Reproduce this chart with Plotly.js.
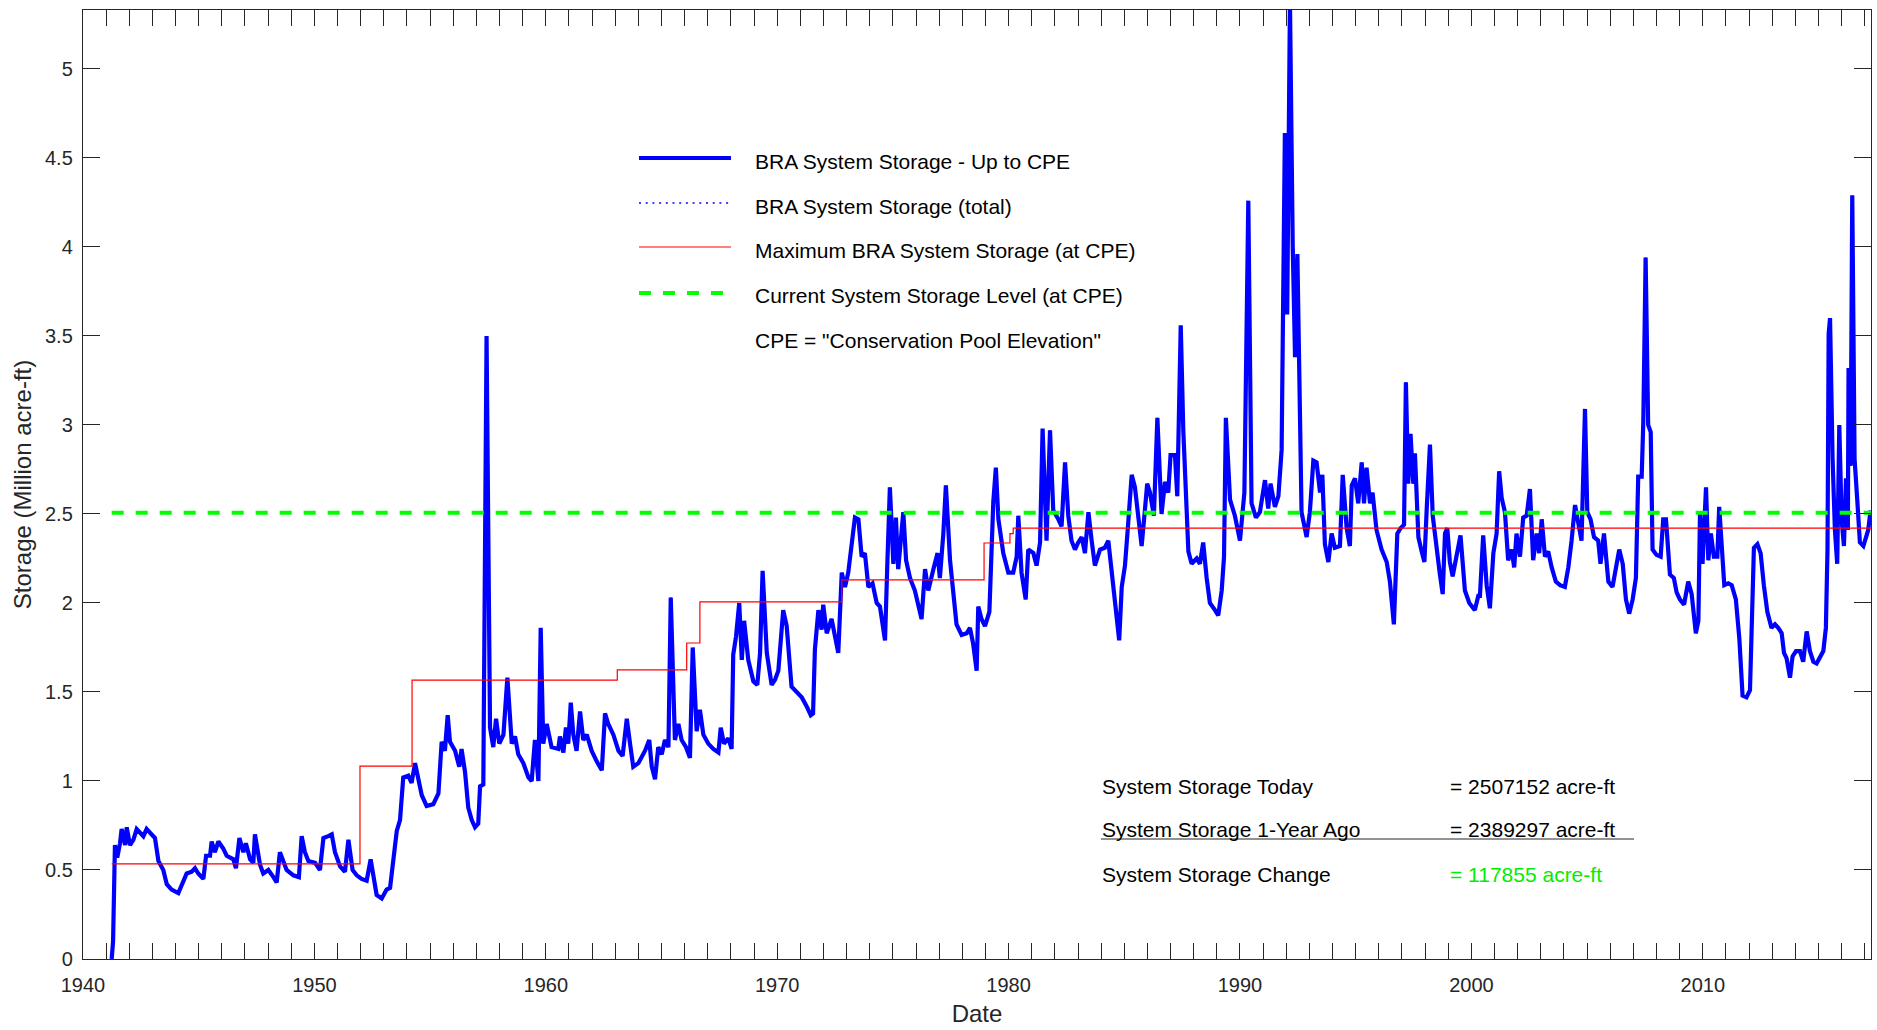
<!DOCTYPE html>
<html>
<head>
<meta charset="utf-8">
<script src="https://cdn.plot.ly/plotly-3.0.1.min.js"></script>
<style>
html,body{margin:0;padding:0;background:#fff;}
#chart{width:1877px;height:1030px;}
</style>
</head>
<body>
<div id="chart"></div>
<script>
// ---- Data ----
var years = [
1941.24,1941.30,1941.38,1941.48,1941.60,1941.67,1941.82,1941.89,1942.03,1942.18,1942.32,1942.46,1942.61,1942.75,1942.97,
1943.11,1943.26,1943.47,1943.62,1943.83,1944.12,1944.26,1944.48,1944.70,1944.84,1944.98,1945.20,1945.32,1945.49,1945.56,
1945.70,1945.85,1946.06,1946.21,1946.50,1946.61,1946.76,1946.93,1947.04,1947.22,1947.36,1947.43,1947.65,1947.79,1948.01,
1948.23,1948.37,1948.51,1948.66,1948.80,1949.09,1949.33,1949.45,1949.59,1949.74,1950.03,1950.24,1950.39,1950.60,1950.75,
1950.89,1951.11,1951.32,1951.47,1951.65,1951.83,1952.04,1952.26,1952.43,1952.58,1952.69,1952.91,1953.12,1953.27,1953.41,
1953.56,1953.70,1953.84,1954.06,1954.20,1954.35,1954.49,1954.64,1954.85,1955.14,1955.36,1955.50,1955.64,1955.76,1955.86,
1956.08,1956.26,1956.36,1956.51,1956.65,1956.80,1956.94,1957.08,1957.16,1957.30,1957.44,
1957.59,1957.73,1957.85,1957.99,1958.17,1958.34,1958.53,1958.67,1958.81,1959.03,1959.25,1959.39,1959.53,1959.68,1959.78,
1959.89,1960.04,1960.25,1960.54,1960.61,1960.76,1960.87,1960.97,1961.08,1961.19,1961.33,1961.48,1961.62,1961.77,1961.98,
1962.20,1962.42,1962.56,1962.70,1962.92,1963.14,1963.32,1963.50,1963.64,1963.78,1964.00,1964.29,1964.47,1964.58,1964.72,
1964.86,1965.01,1965.15,1965.30,1965.40,1965.58,1965.73,1965.87,1966.06,1966.23,1966.35,1966.52,1966.66,1966.81,1967.02,
1967.24,1967.46,1967.56,1967.70,1967.89,1968.03,1968.10,1968.22,1968.36,1968.47,1968.57,1968.75,1968.97,1969.14,1969.26,
1969.37,1969.55,1969.76,1969.91,1970.05,
1970.26,1970.41,1970.62,1970.84,1971.06,1971.27,1971.45,1971.55,1971.63,1971.78,1971.92,1971.99,1972.14,1972.35,1972.50,
1972.64,1972.79,1972.93,1973.07,1973.22,1973.36,1973.51,1973.65,1973.79,1973.94,1974.12,1974.30,1974.44,1974.66,1974.76,
1974.87,1975.02,1975.13,1975.23,1975.45,1975.57,1975.74,1975.95,1976.24,1976.39,1976.53,1976.75,1976.93,1977.03,1977.18,
1977.29,1977.47,1977.75,1977.97,1978.19,1978.33,1978.47,1978.62,1978.69,1978.83,1978.98,1979.17,1979.34,1979.45,1979.56,
1979.77,1979.99,1980.20,1980.35,1980.42,1980.56,1980.74,1980.85,1981.07,1981.21,1981.36,1981.47,1981.64,1981.79,1981.93,
1982.15,1982.29,1982.44,1982.58,1982.72,1982.87,1983.01,1983.16,1983.30,1983.45,1983.59,1983.73,1983.95,1984.16,1984.31,
1984.45,1984.60,1984.78,1984.89,1985.03,1985.17,1985.32,1985.46,1985.61,1985.75,1985.89,1985.99,
1986.11,1986.28,1986.43,1986.61,1986.76,1986.90,1987.00,1987.19,1987.29,1987.44,1987.55,1987.69,1987.77,1987.91,1988.13,
1988.27,1988.41,1988.56,1988.70,1988.92,1989.06,1989.21,1989.31,1989.39,1989.57,1989.78,1990.00,1990.19,1990.36,1990.50,
1990.69,1990.86,1991.08,1991.22,1991.32,1991.51,1991.66,1991.80,1991.94,1992.04,1992.16,1992.28,1992.38,1992.48,1992.66,
1992.88,1993.02,1993.17,1993.31,1993.46,1993.56,1993.67,1993.82,1993.96,1994.10,1994.32,1994.44,1994.61,1994.75,1994.83,
1994.97,1995.11,1995.26,1995.36,1995.47,1995.62,1995.73,1995.90,1996.12,1996.34,1996.48,1996.65,1996.80,1996.94,1997.09,
1997.17,1997.27,1997.37,1997.49,1997.56,1997.71,1997.85,1997.97,1998.07,1998.21,1998.33,1998.47,1998.64,1998.76,1998.86,
1998.96,1999.07,1999.19,1999.36,1999.53,1999.72,1999.91,2000.15,2000.30,
2000.37,2000.51,2000.66,2000.80,2000.95,2001.09,2001.20,2001.31,2001.45,2001.59,2001.74,2001.85,2001.95,2002.10,2002.24,
2002.39,2002.53,2002.67,2002.82,2002.93,2003.04,2003.18,2003.32,2003.47,2003.65,2003.83,2004.04,2004.19,2004.33,2004.48,
2004.62,2004.76,2004.91,2005.01,2005.15,2005.30,2005.48,2005.58,2005.73,2005.92,2006.10,2006.25,2006.39,2006.54,2006.68,
2006.82,2006.97,2007.11,2007.21,2007.36,2007.43,2007.53,2007.64,2007.75,2007.83,2008.00,2008.18,2008.29,2008.41,2008.58,
2008.75,2008.87,2009.01,2009.19,2009.37,2009.52,2009.70,2009.81,2009.88,2009.99,2010.14,2010.24,2010.35,2010.48,2010.63,
2010.71,2010.81,2010.93,2011.10,2011.25,2011.43,2011.58,2011.72,2011.89,2012.04,2012.11,2012.21,2012.36,2012.50,2012.64,
2012.79,2012.97,2013.12,2013.26,2013.41,2013.51,2013.62,2013.77,2013.88,2014.03,2014.20,2014.34,2014.49,2014.63,2014.78,
2014.92,2015.06,2015.21,2015.32,2015.39,2015.44,2015.50,2015.61,2015.71,2015.81,2015.90,2016.00,2016.10,2016.19,2016.27,
2016.30,2016.39,2016.46,2016.56,2016.68,2016.79,2016.94,2017.05,2017.15,2017.25
];
var storage = [
0.00,0.10,0.64,0.57,0.65,0.73,0.64,0.74,0.64,0.67,0.73,0.71,0.69,0.73,0.70,
0.68,0.55,0.50,0.42,0.39,0.37,0.41,0.48,0.49,0.51,0.48,0.45,0.58,0.58,0.66,
0.60,0.66,0.62,0.58,0.56,0.51,0.68,0.60,0.65,0.56,0.54,0.70,0.53,0.48,0.50,
0.46,0.43,0.60,0.55,0.50,0.47,0.46,0.69,0.60,0.55,0.54,0.50,0.68,0.69,0.70,
0.60,0.52,0.49,0.67,0.50,0.47,0.45,0.44,0.56,0.46,0.36,0.34,0.39,0.40,0.55,
0.72,0.78,1.02,1.03,0.99,1.10,1.00,0.92,0.86,0.87,0.93,1.22,1.17,1.37,1.22,
1.17,1.08,1.18,1.05,0.85,0.78,0.74,0.76,0.97,0.98,3.50,
1.30,1.19,1.35,1.21,1.26,1.58,1.21,1.25,1.15,1.10,1.02,1.00,1.23,1.00,1.86,
1.21,1.32,1.19,1.18,1.25,1.16,1.30,1.21,1.44,1.26,1.17,1.39,1.23,1.26,1.17,
1.11,1.06,1.38,1.32,1.26,1.17,1.14,1.35,1.21,1.08,1.10,1.17,1.23,1.08,1.01,
1.19,1.15,1.23,1.19,2.03,1.23,1.32,1.23,1.19,1.13,1.75,1.28,1.40,1.26,1.21,
1.18,1.16,1.30,1.21,1.24,1.18,1.71,1.81,2.00,1.68,1.90,1.68,1.56,1.54,1.72,
2.18,1.72,1.54,1.57,1.62,
1.96,1.87,1.53,1.50,1.47,1.42,1.37,1.38,1.74,1.96,1.85,1.99,1.83,1.91,1.81,
1.72,2.17,2.09,2.17,2.32,2.48,2.47,2.26,2.28,2.09,2.11,2.00,1.98,1.79,2.22,
2.65,2.22,2.48,2.19,2.51,2.24,2.14,2.07,1.91,2.19,2.07,2.19,2.28,2.14,2.39,
2.66,2.24,1.88,1.82,1.83,1.86,1.77,1.62,1.98,1.91,1.87,1.95,2.57,2.76,2.47,
2.28,2.17,2.17,2.26,2.49,2.17,2.02,2.30,2.28,2.21,2.34,2.98,2.35,2.97,2.52,
2.47,2.43,2.79,2.49,2.35,2.30,2.34,2.37,2.28,2.51,2.35,2.21,2.30,2.31,2.35,
2.17,1.98,1.79,2.09,2.21,2.45,2.72,2.65,2.47,2.32,2.52,2.67,
2.62,2.49,3.04,2.50,2.68,2.62,2.83,2.83,2.60,3.56,2.97,2.49,2.29,2.22,2.25,
2.22,2.34,2.14,2.00,1.96,1.93,2.07,2.26,3.04,2.58,2.49,2.35,2.62,4.26,2.56,
2.48,2.51,2.69,2.53,2.67,2.54,2.60,2.86,4.64,3.62,5.38,4.00,3.38,3.96,2.51,
2.37,2.51,2.80,2.79,2.62,2.72,2.33,2.23,2.39,2.31,2.32,2.72,2.42,2.32,2.66,
2.70,2.56,2.79,2.56,2.76,2.56,2.62,2.41,2.30,2.23,2.12,1.88,2.39,2.42,2.44,
3.24,2.67,2.95,2.67,2.84,2.37,2.29,2.23,2.53,2.89,2.49,2.32,2.16,2.05,2.39,
2.42,2.23,2.15,2.27,2.38,2.07,2.00,1.96,2.04,
2.04,2.38,2.10,1.97,2.28,2.39,2.74,2.59,2.51,2.24,2.30,2.20,2.39,2.26,2.48,
2.49,2.64,2.24,2.39,2.28,2.47,2.26,2.29,2.20,2.12,2.10,2.09,2.20,2.35,2.55,
2.45,2.35,3.09,2.51,2.47,2.37,2.35,2.22,2.39,2.12,2.09,2.20,2.30,2.22,2.02,
1.94,2.02,2.14,2.71,2.71,3.02,3.94,3.00,2.96,2.30,2.27,2.26,2.47,2.47,2.16,
2.14,2.06,2.02,1.99,2.12,2.05,1.83,1.90,2.51,2.22,2.65,2.24,2.39,2.26,2.26,
2.54,2.30,2.10,2.11,2.10,2.02,1.80,1.48,1.47,1.51,1.90,2.31,2.33,2.28,2.10,
1.95,1.86,1.88,1.86,1.83,1.72,1.69,1.58,1.70,1.73,1.73,1.67,1.84,1.73,1.67,
1.66,1.69,1.73,1.86,2.30,3.51,3.60,2.81,2.41,2.22,3.00,2.47,2.32,2.70,2.41,
3.32,2.77,4.29,2.81,2.57,2.34,2.32,2.37,2.41,2.52
];

// Maximum storage at CPE (step levels)
var maxYears   = [1941.24, 1951.97, 1954.22, 1963.09, 1966.09, 1966.66, 1972.79, 1978.94, 1980.06, 1980.20, 2017.27];
var maxStorage = [0.534,   1.084,   1.567,   1.624,   1.775,   2.006,   2.130,   2.337,   2.390,   2.420,   2.420];

// Current system storage level
var currentYears = [1941.24, 2017.27];
var currentLevel = 2.507152;

var legendLabels = [
  'BRA System Storage - Up to CPE',
  'BRA System Storage (total)',
  'Maximum BRA System Storage (at CPE)',
  'Current System Storage Level (at CPE)',
  'CPE = "Conservation Pool Elevation"'
];
var statLabels = ['System Storage Today', 'System Storage 1-Year Ago', 'System Storage Change'];
var statValues = [2507152, 2389297, 117855];

var xTickVals = [1940, 1950, 1960, 1970, 1980, 1990, 2000, 2010];

// ---- Figure ----
var FONT = 'Liberation Sans, Arial, Helvetica, sans-serif';
var AX = '#262626';
var TICKFS = 20;
var TXTFS = 21;
var TITLEFS = 24;

var traces = [
  {x: years, y: storage, mode: 'lines', name: legendLabels[1],
   line: {color: '#0000ff', width: 1.5, dash: '2px,4.7px'}, showlegend: false, hoverinfo: 'skip'},
  {x: years, y: storage, mode: 'lines', name: legendLabels[0],
   line: {color: '#0000ff', width: 4.2, shape: 'linear'}, showlegend: false},
  {x: maxYears, y: maxStorage, mode: 'lines', name: legendLabels[2],
   line: {color: '#ff0000', width: 1.2, shape: 'hv'}, showlegend: false},
  {x: currentYears, y: currentYears.map(function(){return currentLevel;}), mode: 'lines', name: legendLabels[3],
   line: {color: '#00ff00', width: 4, dash: 'dash'}, showlegend: false}
];

// plot area in pixels (for placing the hand-drawn legend)
var L = 83, T = 10, R = 6, B = 71, W = 1877, H = 1030;
var pw = W - L - R, ph = H - T - B;
function px(x) { return (x - L) / pw; }
function py(y) { return (H - B - y) / ph; }

var lineY = [158, 203, 247, 293];
var textY = [161, 206, 250, 295, 340];
var legendStyles = [
  {color: '#0000ff', width: 4.2, dash: 'solid'},
  {color: '#0000ff', width: 1.5, dash: '2px,4.7px'},
  {color: '#ff0000', width: 1.2, dash: 'solid'},
  {color: '#00ff00', width: 4, dash: '12px,12px'}
];

var shapes = [];
var annotations = [];
for (var i = 0; i < 4; i++) {
  shapes.push({type: 'line', xref: 'paper', yref: 'paper',
    x0: px(639), x1: px(731), y0: py(lineY[i]), y1: py(lineY[i]),
    line: legendStyles[i]});
}
for (var j = 0; j < legendLabels.length; j++) {
  annotations.push({xref: 'paper', yref: 'paper', x: px(753), y: py(textY[j]),
    xanchor: 'left', yanchor: 'middle', showarrow: false, text: legendLabels[j],
    font: {family: FONT, size: TXTFS, color: '#000'}});
}
var statY = [786, 829, 874];
for (var k = 0; k < 3; k++) {
  var col = (k === 2) ? '#00ee00' : '#000';
  annotations.push({xref: 'paper', yref: 'paper', x: px(1100), y: py(statY[k]),
    xanchor: 'left', yanchor: 'middle', showarrow: false, text: statLabels[k],
    font: {family: FONT, size: TXTFS, color: '#000'}});
  annotations.push({xref: 'paper', yref: 'paper', x: px(1448), y: py(statY[k]),
    xanchor: 'left', yanchor: 'middle', showarrow: false, text: '= ' + statValues[k] + ' acre-ft',
    font: {family: FONT, size: TXTFS, color: col}});
}
shapes.push({type: 'line', xref: 'paper', yref: 'paper', x0: px(1101), x1: px(1634),
  y0: py(839), y1: py(839), line: {color: AX, width: 1}});

var layout = {
  width: W, height: H,
  margin: {l: L, r: R, t: T, b: B, pad: 0},
  paper_bgcolor: '#fff', plot_bgcolor: '#fff',
  showlegend: false,
  font: {family: FONT, size: TICKFS, color: AX},
  xaxis: {
    range: [1940, 2017.27], tickmode: 'array', tickvals: xTickVals,
    ticks: 'inside', ticklen: 16, tickwidth: 1, tickcolor: AX,
    minor: {tickmode: 'linear', tick0: 1940, dtick: 1, ticks: 'inside', ticklen: 16, tickwidth: 1, tickcolor: AX},
    showline: true, linecolor: AX, linewidth: 1.2, mirror: 'ticks',
    showgrid: false, zeroline: false,
    tickfont: {family: FONT, size: TICKFS, color: AX},
    ticklabelstandoff: 8,
    title: {text: 'Date', font: {family: FONT, size: TITLEFS, color: AX}, standoff: 10},
    automargin: false
  },
  yaxis: {
    range: [0, 5.331], tickmode: 'linear', tick0: 0, dtick: 0.5,
    ticks: 'inside', ticklen: 17, tickwidth: 1, tickcolor: AX,
    showline: true, linecolor: AX, linewidth: 1.2, mirror: 'ticks',
    showgrid: false, zeroline: false,
    tickfont: {family: FONT, size: TICKFS, color: AX},
    ticklabelstandoff: 5,
    title: {text: 'Storage (Million acre-ft)', font: {family: FONT, size: TITLEFS, color: AX}, standoff: 6},
    automargin: false
  },
  shapes: shapes,
  annotations: annotations
};

Plotly.newPlot('chart', traces, layout, {staticPlot: true, displayModeBar: false});
</script>
</body>
</html>
